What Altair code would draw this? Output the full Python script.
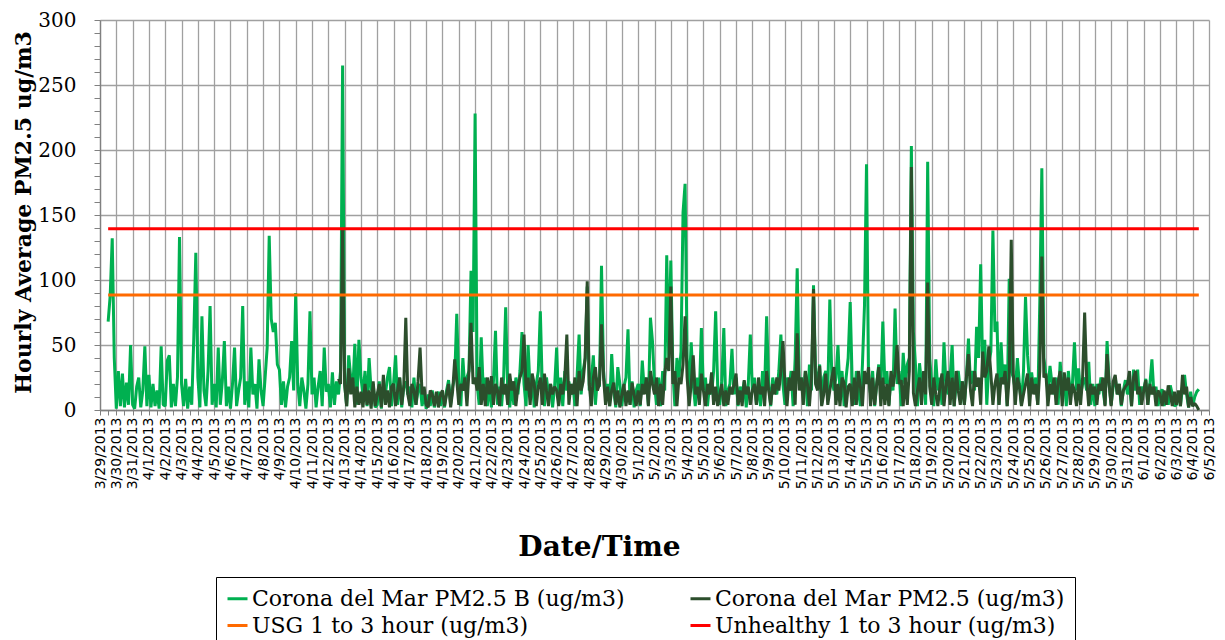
import altair as alt
import pandas as pd

# ---------------- data ----------------
series_names = [
    "Corona del Mar PM2.5 B (ug/m3)",
    "Corona del Mar PM2.5 (ug/m3)",
    "USG 1 to 3 hour (ug/m3)",
    "Unhealthy 1 to 3 hour (ug/m3)",
]
series_colors = ["#00B050", "#2C4E2C", "#FF6A00", "#FF0000"]
# legend is filled column by column: green, orange | dark, red
legend_order = [series_names[0], series_names[2], series_names[1], series_names[3]]
legend_colors = [series_colors[0], series_colors[2], series_colors[1], series_colors[3]]

# x is measured in days since 3/29/2013 00:00; values are 3-hourly readings
n_days = 68
step_days = 0.125
green_start = 0.5      # 3/29/2013 12:00
dark_start = 14.625    # 4/12/2013 15:00

green_values = [
    68, 88, 132, 40,
    1, 30, 3, 28, 2, 21, 4, 50,
    4, 1, 18, 25, 2, 15, 49, 3,
    27, 2, 20, 3, 15, 1, 49, 4,
    3, 38, 42, 2, 20, 3, 25, 133,
    20, 3, 24, 1, 18, 4, 55, 121,
    25, 2, 72, 15, 3, 30, 80, 4,
    20, 2, 48, 4, 22, 53, 3, 18,
    1, 20, 48, 3, 15, 25, 80, 4,
    22, 2, 48, 12, 20, 1, 39, 15,
    3, 25, 48, 134, 70, 60, 67, 35,
    31, 4, 22, 2, 18, 25, 53, 15,
    90, 20, 3, 25, 15, 1, 20, 76,
    12, 25, 2, 18, 30, 3, 48, 14,
    20, 2, 29, 4, 22, 12, 30, 265,
    20, 3, 42, 25, 15, 51, 4, 54,
    25, 12, 30, 3, 40, 15, 20, 2,
    4, 22, 1, 18, 12, 25, 33, 3,
    20, 42, 4, 25, 2, 18, 22, 12,
    18, 2, 25, 4, 15, 20, 3, 14,
    1, 12, 3, 15, 2, 10, 14, 3,
    12, 2, 15, 23, 4, 18, 25, 74,
    20, 3, 40, 15, 25, 30, 107, 60,
    228, 20, 4, 56, 15, 25, 3, 20,
    2, 22, 61, 4, 18, 3, 25, 79,
    15, 2, 20, 4, 25, 12, 30, 60,
    20, 3, 50, 15, 25, 2, 20, 30,
    76, 15, 3, 25, 12, 20, 2, 18,
    48, 4, 25, 3, 30, 15, 22, 12,
    20, 3, 25, 58, 12, 30, 40, 95,
    15, 22, 42, 4, 25, 18, 111, 30,
    12, 20, 3, 43, 15, 2, 33, 20,
    3, 18, 25, 62, 4, 22, 2, 15,
    20, 3, 38, 15, 25, 4, 71, 53,
    20, 4, 25, 3, 30, 15, 119, 40,
    115, 30, 3, 40, 25, 45, 152, 174,
    40, 15, 52, 20, 3, 25, 12, 63,
    15, 25, 3, 20, 12, 30, 76, 18,
    4, 22, 63, 3, 15, 20, 47, 12,
    25, 3, 18, 12, 22, 2, 20, 58,
    15, 25, 4, 20, 3, 30, 15, 72,
    20, 3, 25, 15, 12, 30, 58, 20,
    4, 25, 15, 30, 3, 40, 109, 20,
    25, 12, 30, 3, 35, 15, 96, 30,
    20, 35, 4, 25, 30, 15, 85, 25,
    15, 25, 50, 12, 30, 3, 25, 40,
    83, 20, 4, 30, 15, 3, 35, 80,
    189, 25, 12, 30, 3, 20, 35, 15,
    68, 20, 30, 4, 25, 15, 78, 20,
    30, 3, 44, 20, 35, 40, 203, 60,
    35, 3, 36, 20, 25, 4, 191, 40,
    20, 3, 39, 15, 25, 4, 52, 18,
    12, 25, 50, 3, 20, 30, 15, 22,
    4, 25, 55, 20, 30, 15, 64, 40,
    112, 30, 54, 4, 35, 45, 138, 60,
    68, 4, 52, 20, 35, 3, 101, 30,
    25, 15, 40, 20, 4, 30, 87, 42,
    20, 29, 15, 25, 4, 83, 186, 40,
    27, 15, 34, 20, 12, 25, 4, 37,
    15, 25, 3, 30, 12, 20, 52, 15,
    32, 12, 20, 25, 15, 37, 4, 20,
    3, 20, 12, 25, 15, 4, 53, 20,
    4, 18, 25, 12, 20, 3, 15, 23,
    12, 20, 3, 31, 15, 31, 4, 18,
    15, 24, 4, 20, 39, 12, 18, 3,
    12, 16, 3, 14, 4, 19, 12, 3,
    4, 14, 3, 18, 27, 12, 2, 14,
    3, 10, 14, 16,
]

dark_values = [
    24, 20, 139,
    20, 3, 32, 12, 25, 2, 18, 4,
    14, 2, 20, 4, 15, 1, 22, 3,
    12, 20, 2, 27, 4, 15, 2, 18,
    20, 3, 15, 25, 4, 18, 71, 12,
    3, 20, 15, 4, 22, 48, 12, 18,
    4, 2, 15, 12, 3, 14, 2, 12,
    15, 3, 12, 20, 2, 15, 39, 23,
    4, 20, 15, 25, 3, 30, 67, 20,
    25, 15, 33, 4, 20, 3, 25, 12,
    26, 4, 20, 15, 3, 25, 12, 20,
    4, 28, 15, 22, 3, 18, 25, 30,
    58, 15, 25, 4, 28, 20, 3, 18,
    25, 4, 28, 15, 3, 20, 12, 18,
    15, 3, 20, 12, 25, 58, 4, 20,
    12, 25, 3, 30, 15, 22, 40, 99,
    20, 3, 25, 33, 15, 20, 66, 25,
    4, 18, 3, 15, 21, 4, 15, 2,
    12, 20, 3, 15, 4, 21, 12, 3,
    15, 4, 20, 12, 25, 3, 30, 20,
    12, 25, 3, 20, 4, 28, 40, 30,
    95, 20, 30, 3, 25, 20, 35, 72,
    25, 3, 20, 42, 12, 18, 4, 28,
    15, 3, 20, 12, 29, 4, 18, 3,
    12, 20, 3, 15, 4, 18, 12, 20,
    28, 4, 15, 3, 23, 12, 18, 4,
    15, 20, 4, 25, 12, 18, 3, 30,
    15, 4, 20, 12, 25, 15, 30, 53,
    20, 3, 25, 15, 30, 4, 59, 15,
    25, 4, 30, 20, 3, 25, 93, 20,
    15, 34, 3, 12, 28, 4, 15, 25,
    33, 4, 20, 3, 25, 21, 2, 18,
    20, 3, 25, 4, 30, 18, 3, 30,
    20, 33, 3, 25, 4, 20, 33, 3,
    25, 4, 20, 3, 30, 18, 29, 50,
    20, 23, 3, 25, 4, 30, 187, 13,
    3, 15, 25, 4, 30, 12, 98, 18,
    4, 25, 12, 3, 18, 28, 3, 20,
    30, 4, 25, 3, 30, 15, 4, 22,
    4, 25, 43, 15, 3, 30, 18, 25,
    4, 45, 25, 30, 49, 28, 4, 20,
    28, 4, 25, 20, 30, 3, 25, 131,
    28, 4, 25, 18, 3, 12, 20, 28,
    3, 25, 12, 20, 4, 30, 118, 25,
    28, 3, 20, 12, 25, 4, 22, 30,
    3, 29, 15, 25, 4, 20, 15, 3,
    20, 4, 25, 75, 23, 3, 20, 12,
    18, 4, 20, 15, 25, 3, 43, 20,
    3, 22, 27, 12, 20, 4, 15, 18,
    20, 30, 3, 25, 30, 12, 18, 4,
    15, 23, 4, 20, 12, 18, 3, 15,
    12, 3, 15, 4, 19, 12, 3, 14,
    4, 15, 3, 27, 12, 18, 2, 10,
    3, 5, 3, 0,
]

threshold_values = [88.5, 139.5]

# ---------------- build table ----------------
rows = []
for i, v in enumerate(green_values):
    rows.append({"day": green_start + i * step_days, "value": v, "series": series_names[0]})
for i, v in enumerate(dark_values):
    rows.append({"day": dark_start + i * step_days, "value": v, "series": series_names[1]})
green_end = green_start + (len(green_values) - 1) * step_days
for name, t in zip(series_names[2:], threshold_values):
    rows.append({"day": green_start, "value": t, "series": name})
    rows.append({"day": green_end, "value": t, "series": name})
df = pd.DataFrame(rows)

# ---------------- chart ----------------
x_axis = alt.Axis(
    values=[i / 2 for i in range(n_days * 2 + 1)],
    labelExpr="datum.value % 1 == 0 ? timeFormat(datetime(2013, 2, 29 + datum.value), '%-m/%-d/%Y') : ''",
    labelAngle=-90,
    labelFont="DejaVu Sans",
    labelFontSize=14,
    labelColor="black",
    labelOverlap=False,
    labelBound=False,
    labelFlush=False,
    labelPadding=2,
    tickSize=5,
    tickColor="#808080",
    domainColor="#808080",
    domainWidth=1.3,
    gridColor="#A0A0A0",
    gridWidth=1.3,
    gridOpacity={"condition": {"test": "datum.value % 1 != 0", "value": 0}, "value": 1},
    title="Date/Time",
    titleFont="DejaVu Serif",
    titleFontSize=28,
    titleFontWeight="bold",
    titleColor="black",
    titleX=499,
    titleY=137,
    titleBaseline="middle",
)

y_axis = alt.Axis(
    values=list(range(0, 301, 10)),
    labelExpr="datum.value % 50 == 0 ? datum.label : ''",
    labelFont="DejaVu Serif",
    labelFontSize=20,
    labelColor="black",
    labelPadding=18,
    tickSize=6,
    tickColor="#808080",
    domainColor="#808080",
    domainWidth=1.3,
    gridColor="#A0A0A0",
    gridWidth=1.3,
    gridOpacity={"condition": {"test": "datum.value % 50 != 0", "value": 0}, "value": 1},
    title="Hourly Average PM2.5 ug/m3",
    titleFont="DejaVu Serif",
    titleFontSize=22,
    titleFontWeight="bold",
    titleColor="black",
    titleAngle=270,
    titleX=-77,
    titleY=192,
    titleBaseline="middle",
)

x_enc = alt.X("day:Q", scale=alt.Scale(domain=[0, n_days], nice=False, zero=False), axis=x_axis)
y_enc = alt.Y("value:Q", scale=alt.Scale(domain=[0, 300], nice=False), axis=y_axis)
color_enc = alt.Color(
    "series:N",
    scale=alt.Scale(domain=legend_order, range=legend_colors),
    legend=alt.Legend(
        title=None,
        orient="none",
        legendX=116,
        legendY=557,
        columns=2,
        symbolType="stroke",
        symbolStrokeWidth=3,
        symbolSize=400,
        labelFont="DejaVu Serif",
        labelFontSize=22,
        labelColor="black",
        labelLimit=0,
        labelOffset=3,
        columnPadding=59,
        rowPadding=4,
        padding=10,
        strokeColor="black",
        fillColor="white",
    ),
)

layers = []
for name in series_names:
    layers.append(
        alt.Chart()
        .transform_filter(alt.datum.series == name)
        .mark_line(strokeWidth=3, strokeJoin="bevel")
        .encode(x=x_enc, y=y_enc, color=color_enc)
    )

chart = (
    alt.layer(*layers, data=df)
    .properties(
        width=1109,
        height=390,
        autosize=alt.AutoSizeParams(type="none"),
        padding={"left": 92, "top": 12, "right": 8, "bottom": 230},
    )
    .configure_view(strokeWidth=0)
)

chart.save("out.html", embed_options={"renderer": "svg", "actions": False})
